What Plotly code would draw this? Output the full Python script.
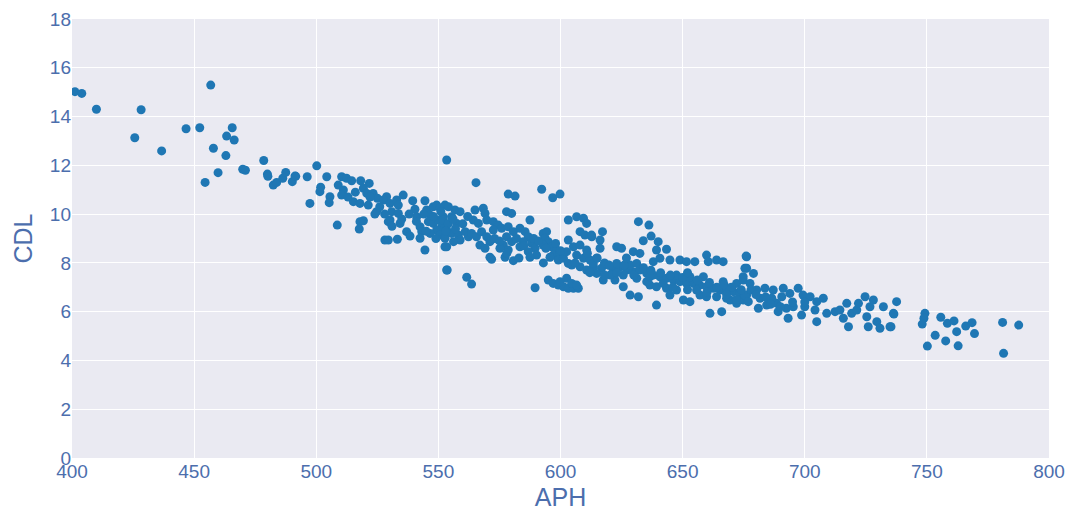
import plotly.graph_objects as go

aph = [
401.2,404,410,428.3,425.7,436.7,446.7,452.3,456.8,457.9,454.5,459.8,463.3,465.6,466.4,463,469.9,471,478.5,480,480.2,482.4,483.8,486.3,487.5,490.2,491.6,
500.2,491.3,496.3,504.3,497.4,501.8,501.5,505.6,505.3,510.4,512.4,514.5,509,511.1,510.4,515.2,517.9,518.2,521.7,519.3,520.7,523.3,525,521.3,524.7,524,508.6,517.9,519.3,517.6,
528.8,527.5,530.2,530.9,532.9,533.6,535.6,530.2,529.5,534.3,533.6,528.1,529.5,533.2,537,538.4,539.5,544.5,540.4,541.1,542.5,543.2,542.5,544.5,
545.2,546.6,547.9,549.3,550.7,545.9,547.9,550,552,551.4,549.3,546.6,550.7,552.7,553.4,553.4,553.4,
565.4,578.6,581.4,592.3,596.8,599.8,552.7,554.1,556.8,558.9,552,555.4,557.5,553.4,555.4,558.2,561,562.3,558.9,556.2,552.7,
565,568.4,569.1,564.3,566.4,569.8,572.5,574.5,563.6,565.6,567.7,569.8,572.5,571.1,567,569.1,571.1,571.8,
577.9,580,583.4,585.5,587.5,586.8,584.8,583.4,588.2,589.6,586.8,590.2,587.5,575.9,578.6,580.7,577.9,580,576.6,578.6,575.2,577.3,580.7,
553.6,561.6,563.6,589.6,592.9,594.3,593.7,595,592.9,596.4,598.4,597,599.8,595.7,599.1,601.2,603.2,
603.2,606.6,609.4,610.7,608,610,612.8,603.2,605.3,602.5,608,610.7,606.6,609.4,612.1,614.8,604.6,608,610.7,613.5,
595,597,599.1,601.2,603.2,605.3,607.3,602.5,599.8,604.6,606.6,
631.9,636.2,617.2,612.7,616.2,616.2,633.9,637.1,640,623,625,629.8,632.5,639.3,643.4,
638,640.7,644.8,648.9,651.6,655,659.8,660.5,663.9,666.6,676.2,675.5,
613.4,616.8,619.6,621.6,624.4,627.1,629.8,632.5,635.3,638,640.7,643.4,646.2,648.9,651.6,654.4,657.1,659.8,662.6,665.3,668,670.8,673.5,676.2,
617.5,622.3,625.7,628.5,631.9,636.6,639.3,643.4,647.5,650.3,653,657.1,661.2,666,669.4,672.1,674.8,
620.3,625.7,631.2,635.3,639.3,644.8,655.7,659.8,663.9,668,636.6,642,647.5,653,658.5,666.6,672.1,674.8,614.8,623,628.5,631.2,
676,676.2,679,674.8,677.6,680.3,675.5,676.9,683.7,687.1,691.2,693.9,697.3,699.3,702.2,707.6,
681.7,681,684.4,688.5,689.1,692.5,693.2,695.3,698.7,690.6,686.5,
704.9,704.2,704.9,709,712.4,714.4,717.2,715.8,717.9,719.2,721.3,722,724.7,725.4,726.7,728.1,726,729.5,730.8,732.2,734.9,736.3,737.6,
736.5,735.3,749.2,748.8,748.1,750.2,755.7,758.4,761.1,762.2,753.4,757.7,762.8,765.9,768.5,769.5,781,787.6,781.4,
541,544,548,551,554,556,549,553,557,560,562,545,
573,575,582,585,589,591,594,598,600,578,583,593,
606,611,615,618,620,623,626,618,630,612,627,634,
637,641,645,650,652,656,661,664,667,670,674,678,646,652,660,668,672,680,684,686,690,695,700,700,
513,516,522,526,528,531,535,538,
]

cdl = [
15.02,14.95,14.3,14.28,13.13,12.59,13.5,13.54,15.29,12.7,11.3,11.7,13.2,13.54,13.04,12.4,11.84,11.8,12.2,11.64,11.55,11.19,11.3,11.47,11.71,11.33,11.55,
11.98,11.56,11.53,11.53,10.44,11.1,10.92,10.71,10.47,11.53,11.47,11.37,11.19,10.99,10.78,10.51,10.44,11.37,11.26,11.06,10.85,10.85,10.65,10.37,10.1,10.0,9.55,9.69,9.73,9.39,
10.71,10.58,10.44,10.1,10.58,10.37,10.78,9.76,9.69,9.62,10.03,8.94,8.94,8.97,9.28,9.1,10.55,10.55,10.2,9.89,9.48,9.28,9.01,8.53,
10.17,9.96,10.3,10.37,10.24,9.69,9.62,9.76,9.89,9.48,9.35,9.21,9.14,9.01,8.66,7.71,12.22,
11.29,10.82,10.74,11.02,10.67,10.82,10.37,10.3,10.17,10.1,9.76,9.89,9.62,9.35,9.21,9.14,9.28,9.07,8.94,8.87,8.66,
10.17,10.24,10.03,9.76,9.62,9.76,9.69,9.55,9.21,9.07,9.28,9.07,9.35,8.87,8.73,8.6,8.23,8.15,
10.1,10.03,9.42,9.28,9.76,9.07,8.87,8.66,8.8,8.6,8.46,8.32,8.23,9.42,9.48,9.28,9.07,8.87,8.73,8.53,8.6,8.23,8.09,
7.71,7.41,7.13,6.98,9.21,9.28,9.01,8.87,8.73,8.66,8.53,8.32,8.39,8.23,8.12,8.19,7.98,
9.76,9.89,9.83,9.62,9.28,9.14,9.07,8.94,8.66,8.46,8.73,8.53,8.32,8.19,8.12,8.19,7.91,7.84,7.71,7.84,
7.3,7.16,7.09,7.02,6.96,6.96,6.96,7.37,7.23,7.16,7.09,
9.69,9.55,9.28,9.14,8.94,8.6,8.91,9.1,8.87,8.66,8.6,8.46,8.39,8.53,8.56,
8.05,8.19,8.12,8.12,8.05,8.05,8.32,8.05,8.12,8.05,8.25,7.78,
7.98,7.78,7.91,7.71,7.84,7.71,7.64,7.71,7.57,7.5,7.43,7.37,7.3,7.23,7.16,7.16,7.09,7.02,6.96,6.89,6.89,6.82,6.75,6.68,
7.3,7.3,7.02,6.68,6.61,7.09,6.27,6.96,6.89,6.48,6.41,6.68,5.93,6.0,6.48,6.34,6.48,
7.5,7.5,7.37,7.23,7.02,6.68,6.89,6.61,6.61,6.55,7.43,7.16,7.5,7.43,7.43,7.23,7.16,7.3,7.57,7.98,7.91,7.98,
8.28,7.78,7.57,7.43,7.16,6.89,6.68,6.41,6.96,6.89,6.96,6.75,6.96,6.68,6.61,6.55,
6.55,6.14,6.27,6.34,6.0,6.14,5.73,6.2,5.86,6.61,6.55,
6.41,6.07,5.59,5.93,6.0,6.07,6.34,5.73,5.38,5.93,6.07,6.34,6.61,5.79,6.2,6.48,5.38,5.59,5.32,6.2,5.38,5.93,6.41,
5.9,5.38,5.93,5.73,5.49,4.59,5.77,5.52,5.62,5.18,5.03,4.8,4.6,5.41,5.55,5.1,5.56,5.45,4.29,
9.7,10.0,9.9,10.1,9.6,9.8,9.0,9.3,9.4,9.6,9.9,9.3,
9.0,8.9,9.0,8.7,9.0,8.9,8.6,8.8,8.5,8.4,8.2,8.0,
8.0,8.4,8.2,8.0,7.9,7.6,7.9,7.5,7.5,7.6,8.2,7.8,
7.7,7.6,7.5,7.4,7.6,7.3,7.2,7.0,7.1,7.0,6.9,6.9,7.0,6.9,6.8,6.7,6.5,6.7,6.6,6.3,6.2,6.4,6.2,6.4,
10.7,10.9,10.7,10.3,10.0,9.5,9.8,10.0,
]

x_ticks = [400, 450, 500, 550, 600, 650, 700, 750, 800]
y_ticks = [0, 2, 4, 6, 8, 10, 12, 14, 16, 18]

font_color = "#4C6EAD"

fig = go.Figure(go.Scatter(
    x=aph, y=cdl, mode="markers",
    marker=dict(color="#1f77b4", size=9, line=dict(width=0)),
    showlegend=False,
))

fig.update_layout(
    width=1071, height=511,
    margin=dict(l=72, r=22, t=19, b=53, autoexpand=False),
    paper_bgcolor="white",
    plot_bgcolor="#EAEAF2",
    font=dict(family="Liberation Sans, Arial, sans-serif", color=font_color, size=19),
    xaxis=dict(
        title=dict(text="APH", font=dict(size=25, color=font_color), standoff=8),
        range=[400, 800], tickvals=x_ticks, ticktext=[str(v) for v in x_ticks],
        showgrid=True, gridcolor="white", gridwidth=1, zeroline=False,
        showline=False, ticks="", automargin=False,
    ),
    yaxis=dict(
        title=dict(text="CDL", font=dict(size=25, color=font_color), standoff=10),
        range=[0, 18], tickvals=y_ticks, ticktext=[str(v) for v in y_ticks],
        showgrid=True, gridcolor="white", gridwidth=1, zeroline=False,
        showline=False, ticks="", automargin=False,
    ),
)

fig.write_html("out.html")
